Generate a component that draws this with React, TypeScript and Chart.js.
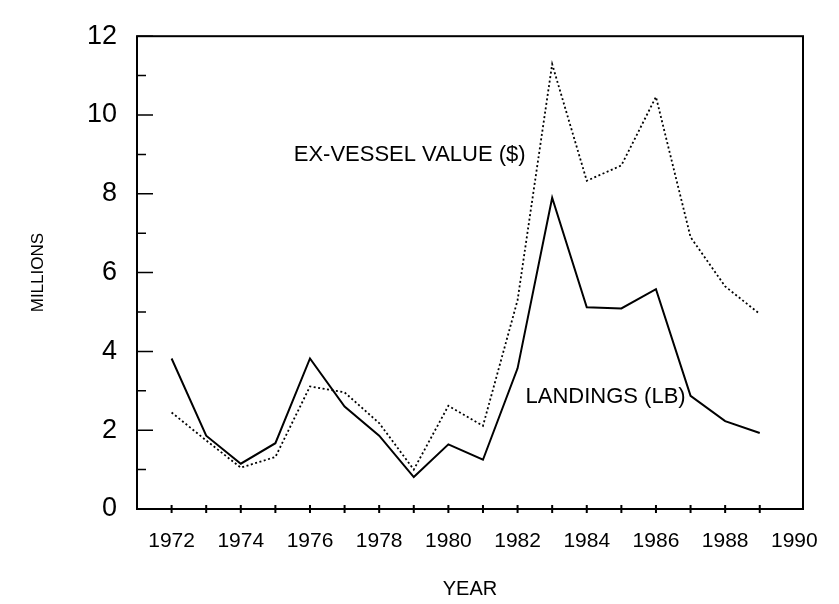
import React, { useEffect, useRef } from "react";
import { Chart, registerables } from "chart.js";

Chart.register(...registerables);

// ---- data ----
const years = [1972, 1973, 1974, 1975, 1976, 1977, 1978, 1979, 1980, 1981, 1982, 1983, 1984, 1985, 1986, 1987, 1988, 1989];
const landings = [3.82, 1.86, 1.15, 1.67, 3.82, 2.6, 1.86, 0.81, 1.64, 1.25, 3.57, 7.9, 5.12, 5.09, 5.58, 2.87, 2.23, 1.93];
const exVesselValue = [2.45, 1.74, 1.05, 1.32, 3.11, 2.96, 2.18, 1.0, 2.62, 2.11, 5.3, 11.29, 8.33, 8.72, 10.46, 6.9, 5.65, 4.95];
const xTickLabels = [1972, 1974, 1976, 1978, 1980, 1982, 1984, 1986, 1988, 1990];
const yTickLabels = [0, 2, 4, 6, 8, 10, 12];
const yMinorTicks = [1, 3, 5, 7, 9, 11];
const annotationTexts = ["EX-VESSEL VALUE ($)", "LANDINGS (LB)"];
const annotationYears = [1975.53, 1982.23];
const annotationValues = [8.99, 2.84];
const xTitle = "YEAR";
const yTitle = "MILLIONS";

const FONT = "'Liberation Sans', Arial, Helvetica, sans-serif";

const framePlugin = {
  id: "frame",
  afterDraw(chart: any) {
    const { ctx, chartArea } = chart;
    const xs = chart.scales.x;
    const ys = chart.scales.y;
    const { left, right, top, bottom } = chartArea;
    ctx.save();
    ctx.strokeStyle = "#000";
    ctx.fillStyle = "#000";
    ctx.lineWidth = 2;
    ctx.strokeRect(left, top, right - left, bottom - top);

    // y ticks (inward)
    ctx.lineWidth = 1.5;
    ctx.beginPath();
    yTickLabels.forEach((v) => {
      const py = ys.getPixelForValue(v);
      ctx.moveTo(left, py);
      ctx.lineTo(left + 16, py);
    });
    yMinorTicks.forEach((v) => {
      const py = ys.getPixelForValue(v);
      ctx.moveTo(left, py);
      ctx.lineTo(left + 9, py);
    });
    ctx.stroke();

    // x ticks (crossing axis)
    ctx.lineWidth = 2;
    ctx.beginPath();
    years.forEach((yr) => {
      const px = xs.getPixelForValue(yr);
      ctx.moveTo(px, bottom - 4);
      ctx.lineTo(px, bottom + 4);
    });
    ctx.stroke();

    // axis titles
    ctx.textAlign = "center";
    ctx.textBaseline = "middle";
    ctx.font = `20px ${FONT}`;
    ctx.fillText(xTitle, (left + right) / 2, 589);
    ctx.save();
    ctx.translate(38, (top + bottom) / 2);
    ctx.rotate(-Math.PI / 2);
    ctx.font = `17px ${FONT}`;
    ctx.fillText(yTitle, 0, 0);
    ctx.restore();

    // annotations
    ctx.textAlign = "left";
    ctx.font = `22px ${FONT}`;
    annotationTexts.forEach((t, i) => {
      ctx.fillText(t, xs.getPixelForValue(annotationYears[i]), ys.getPixelForValue(annotationValues[i]));
    });
    ctx.restore();
  },
};

export default function App() {
  const ref = useRef<HTMLCanvasElement | null>(null);
  useEffect(() => {
    if (!ref.current) return;
    const chart = new Chart(ref.current, {
      type: "line",
      data: {
        datasets: [
          {
            label: "Landings (lb)",
            data: years.map((y, i) => ({ x: y, y: landings[i] })),
            borderColor: "#000",
            borderWidth: 2,
            pointRadius: 0,
            tension: 0,
            fill: false,
          },
          {
            label: "Ex-vessel value ($)",
            data: years.map((y, i) => ({ x: y, y: exVesselValue[i] })),
            borderColor: "#000",
            borderWidth: 1.8,
            borderDash: [2, 2.5],
            pointRadius: 0,
            tension: 0,
            fill: false,
          },
        ],
      },
      options: {
        animation: false,
        responsive: false,
        layout: { padding: { left: 0, top: 19, right: 36, bottom: 0 } },
        plugins: { legend: { display: false }, tooltip: { enabled: false } },
        scales: {
          x: {
            type: "linear",
            min: 1971,
            max: 1990.25,
            afterBuildTicks: (s: any) => {
              s.ticks = xTickLabels.map((v) => ({ value: v }));
            },
            afterFit: (s: any) => {
              s.height = 95;
            },
            grid: { display: false, drawTicks: false },
            border: { display: false },
            ticks: {
              autoSkip: false,
              maxRotation: 0,
              padding: 20,
              color: "#000",
              font: { family: FONT, size: 21 },
              callback: (v: any) => String(v),
            },
          },
          y: {
            type: "linear",
            min: 0,
            max: 12,
            afterBuildTicks: (s: any) => {
              s.ticks = yTickLabels.map((v) => ({ value: v }));
            },
            afterFit: (s: any) => {
              s.width = 137;
            },
            grid: { display: false, drawTicks: false },
            border: { display: false },
            ticks: {
              padding: 20,
              color: "#000",
              font: { family: FONT, size: 27 },
              callback: (v: any) => String(v),
            },
          },
        },
      },
      plugins: [framePlugin],
    });
    return () => chart.destroy();
  }, []);
  return (
    <div style={{ position: "absolute", left: 0, top: 0, width: 839, height: 604, background: "#fff" }}>
      <canvas ref={ref} width={839} height={604} style={{ display: "block", width: 839, height: 604 }} />
    </div>
  );
}
